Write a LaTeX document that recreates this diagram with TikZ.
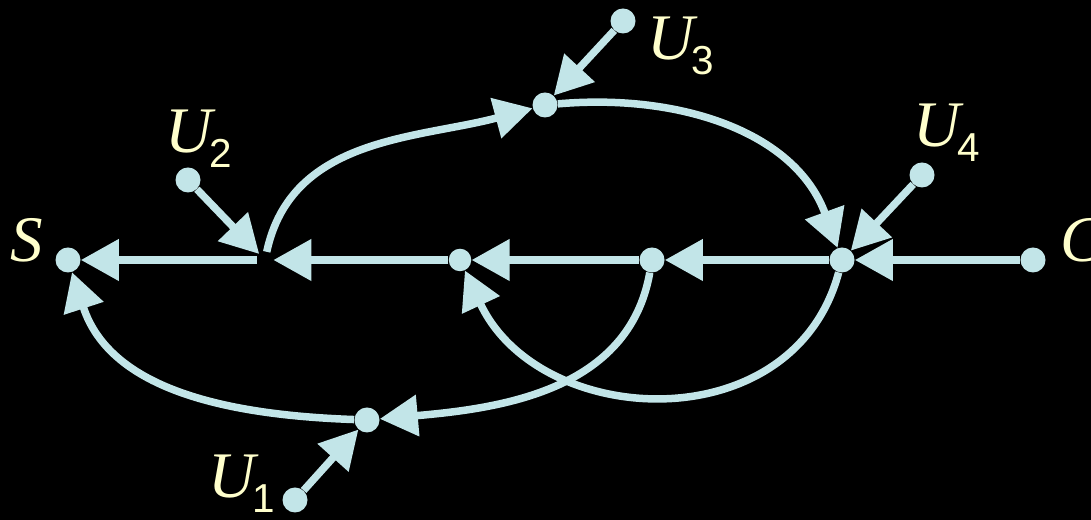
\documentclass[tikz,border=0pt]{standalone}
\usepackage{fontspec}
\setmainfont{Liberation Serif}
\setsansfont{Liberation Sans}
\usetikzlibrary{arrows.meta,positioning}
\definecolor{wire}{HTML}{C2E5E8}
\definecolor{txt}{HTML}{FFFFCC}
\tikzset{
  sig_dot/.style={circle,fill=wire,inner sep=0pt,minimum size=0.5cm},
  sig_pt/.style={circle,inner sep=0pt,minimum size=0.32cm},
  sig_arr/.style={-{Triangle[length=0.76cm,width=0.8cm]},draw=wire,line width=0.15cm},
  sig_lbl/.style={inner sep=0pt,anchor=base west,text=txt,font=\fontsize{37}{40}\selectfont\itshape},
}
\newcommand{\sublbl}[1]{\kern-0.06cm\raisebox{-0.3cm}{\upshape\sffamily\fontsize{23}{23}\selectfont #1}}

\begin{document}
\begin{tikzpicture}
    \fill[black] (0,0) rectangle (21.82,10.4);
    \clip (0,0) rectangle (21.82,10.4);

    % main branch
    \node[sig_dot] (s) at (1.36,5.2) {};
    \node[sig_pt] (a) at (5.3,5.2) {};
    \node[sig_dot,minimum size=0.45cm] (b) at (9.2,5.2) {};
    \node[sig_dot] (c) at (13.04,5.2) {};
    \node[sig_dot] (d) at (16.84,5.2) {};
    \node[sig_dot] (out) at (20.66,5.2) {};
    \node[sig_dot] (e) at (10.9,8.3) {};
    \node[sig_dot] (f) at (7.34,2.0) {};

    % inputs
    \node[sig_dot] (u1) at (5.9,0.4) {};
    \node[sig_dot] (u2) at (3.76,6.8) {};
    \node[sig_dot] (u3) at (12.46,9.98) {};
    \node[sig_dot] (u4) at (18.44,6.9) {};

    \node[sig_lbl] (lbl_s) at (0.2,5.16) {S};
    \node[sig_lbl] (lbl_out) at (21.2,5.16) {C};
    \node[sig_lbl] (lbl_u1) at (4.16,0.44) {U\sublbl{1}};
    \node[sig_lbl] (lbl_u2) at (3.3,7.34) {U\sublbl{2}};
    \node[sig_lbl] (lbl_u3) at (12.94,9.2) {U\sublbl{3}};
    \node[sig_lbl] (lbl_u4) at (18.26,7.46) {U\sublbl{4}};

    \draw[sig_arr](out)--(d);\draw[sig_arr](d)--(c);
    \draw[sig_arr](c)--(b);\draw[sig_arr](b)--(a);
    \draw[sig_arr](a)--(s);
    \draw[sig_arr](u1)--(f);\draw[sig_arr](u2)--(a);
    \draw[sig_arr](u3)--(e);\draw[sig_arr](u4)--(d);

    \draw[sig_arr](a) to[out=78,in=195] (e);
    \draw[sig_arr](e) to[out=5,in=110] (d);
    \draw[sig_arr](d) to[out=-105,in=-65,looseness=1.2] (b);
    \draw[sig_arr](c) to[out=-100,in=5] (f);
    \draw[sig_arr](f) to[out=178,in=-72] (s);
  \end{tikzpicture}
\end{document}
